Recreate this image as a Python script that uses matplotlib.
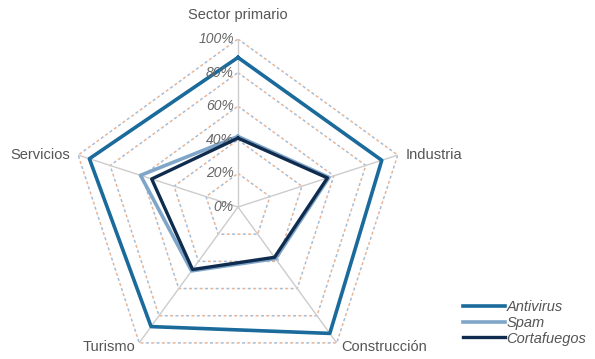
import numpy as np
import matplotlib.pyplot as plt

categories = ["Sector primario", "Industria", "Construcción", "Turismo", "Servicios"]
antivirus = [89, 90, 93, 88, 93]
spam = [42, 57, 38, 47, 61]
cortafuegos = [41, 56, 37, 46, 54]
ticks = [0, 20, 40, 60, 80, 100]

plt.rcParams['font.family'] = ['Liberation Sans', 'DejaVu Sans']

n = len(categories)
angles = np.pi / 2 - np.arange(n) * 2 * np.pi / n
closed = np.append(angles, angles[0])

fig = plt.figure(figsize=(5.95, 3.59), dpi=100)
ax = fig.add_axes([0.1176, -0.0446, 0.5647, 0.936], projection='polar')
ax.set_ylim(0, 100)
ax.set_xticks([])
ax.set_yticks([])
ax.grid(False)
ax.spines['polar'].set_visible(False)
ax.patch.set_alpha(0)

# dashed pentagon grid (two-tone dashes) and spokes
for t in ticks[1:]:
    ax.plot(closed, [t] * (n + 1), color='#e8b598', lw=1.1, ls=(0, (2, 5)), zorder=1)
    ax.plot(closed, [t] * (n + 1), color='#a9bcd6', lw=1.1, ls=(3.5, (2, 5)), zorder=1)
for a in angles:
    ax.plot([a, a], [0, 100], color='#cccccc', lw=1.0, zorder=1)

ax.plot(closed, antivirus + antivirus[:1], color='#1a6a9c', lw=2.6, label='Antivirus', zorder=3)
ax.plot(closed, spam + spam[:1], color='#7fa6c9', lw=2.6, label='Spam', zorder=3)
ax.plot(closed, cortafuegos + cortafuegos[:1], color='#0f2c4f', lw=2.4, label='Cortafuegos', zorder=4)

for t in ticks:
    ax.annotate(f"{t}%", xy=(np.pi / 2, t), xytext=(-3, 0), textcoords='offset points',
                ha='right', va='center', fontsize=10, style='italic', color='#666666')

label_pos = [
    (0, 12, 'center', 'bottom'),
    (6, 0, 'left', 'center'),
    (3, -3, 'left', 'center'),
    (-3, -3, 'right', 'center'),
    (-6, 0, 'right', 'center'),
]
for a, name, (dx, dy, ha, va) in zip(angles, categories, label_pos):
    ax.annotate(name, xy=(a, 100), xytext=(dx, dy), textcoords='offset points',
                ha=ha, va=va, fontsize=10.5, color='#555555')

leg = fig.legend(loc='lower right', bbox_to_anchor=(1.0, 0.013), frameon=False,
                 fontsize=10.5, handlelength=2.9, handletextpad=0.1, labelspacing=0.12,
                 borderaxespad=0.2)
for txt in leg.get_texts():
    txt.set_style('italic')
    txt.set_color('#555555')

fig.savefig('out.png', dpi=100)
